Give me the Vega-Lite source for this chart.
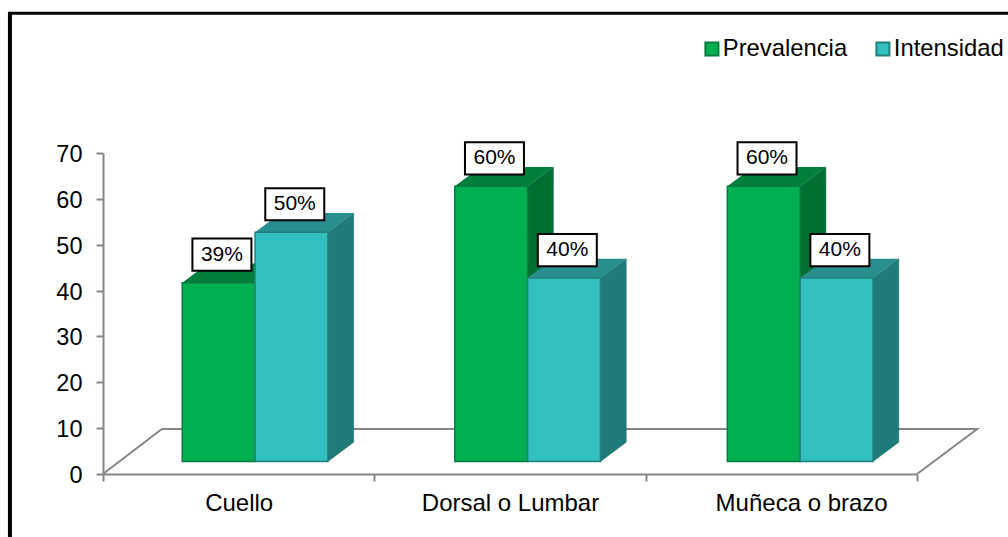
{
  "$schema": "https://vega.github.io/schema/vega-lite/v6.json",
  "width": 814,
  "height": 321,
  "autosize": {"type": "none"},
  "padding": {"left": 103, "top": 153, "right": 91, "bottom": 63},
  "background": "white",
  "config": {
    "view": {"stroke": null},
    "font": "Liberation Sans",
    "axis": {"grid": false, "title": null, "labelFont": "Liberation Sans", "labelColor": "#000000", "domainColor": "#868686", "tickColor": "#868686", "domainWidth": 2, "tickWidth": 2, "tickSize": 7}
  },
  "data": {
    "values": [
      {"categoria": "Cuello", "serie": "Prevalencia", "valor": 39},
      {"categoria": "Cuello", "serie": "Intensidad", "valor": 50},
      {"categoria": "Dorsal o Lumbar", "serie": "Prevalencia", "valor": 60},
      {"categoria": "Dorsal o Lumbar", "serie": "Intensidad", "valor": 40},
      {"categoria": "Muñeca o brazo", "serie": "Prevalencia", "valor": 60},
      {"categoria": "Muñeca o brazo", "serie": "Intensidad", "valor": 40}
    ]
  },
  "transform": [
    {"calculate": "indexof(['Cuello','Dorsal o Lumbar','Muñeca o brazo'], datum.categoria) * 1.0045 + 0.292 + (datum.serie === 'Intensidad' ? 0.2685 : 0)", "as": "izq"},
    {"calculate": "datum.izq + 0.2685", "as": "der"},
    {"calculate": "datum.valor + 2.73", "as": "cima"},
    {"calculate": "(datum.izq + datum.der) / 2 + 0.012", "as": "cx"},
    {"calculate": "datum.cima + 6.1", "as": "cy"},
    {"calculate": "datum.cx - 0.1087", "as": "cajaX"},
    {"calculate": "datum.cx + 0.1087", "as": "cajaX2"},
    {"calculate": "datum.cy - 3.5", "as": "cajaY"},
    {"calculate": "datum.cy + 3.5", "as": "cajaY2"},
    {"calculate": "datum.valor + '%'", "as": "etiqueta"},
    {"calculate": "datum.categoria + datum.serie", "as": "barra"}
  ],
  "layer": [
    {
      "data": {"values": [
        {"orden": 1, "px": 0, "py": 0},
        {"orden": 2, "px": 0.217, "py": 9.8},
        {"orden": 3, "px": 3.222, "py": 9.8},
        {"orden": 4, "px": 3, "py": 0}
      ]},
      "transform": [],
      "mark": {"type": "line", "color": "#868686", "strokeWidth": 2, "clip": false},
      "encoding": {
        "x": {
          "field": "px", "type": "quantitative",
          "scale": {"domain": [0, 3], "nice": false, "zero": false},
          "axis": {
            "values": [0, 0.5, 1, 1.5, 2, 2.573, 3],
            "labelExpr": "datum.value == 0.5 ? 'Cuello' : datum.value == 1.5 ? 'Dorsal o Lumbar' : datum.value == 2.573 ? 'Muñeca o brazo' : ''",
            "labelFontSize": 24,
            "labelPadding": 10,
            "labelAngle": 0,
            "labelOverlap": false,
            "labelFlush": false,
            "tickOpacity": {"condition": {"test": "indexof([0, 1, 2, 3], datum.value) >= 0", "value": 1}, "value": 0}
          }
        },
        "y": {
          "field": "py", "type": "quantitative",
          "scale": {"domain": [0, 70], "nice": false},
          "axis": {"values": [0, 10, 20, 30, 40, 50, 60, 70], "labelFontSize": 23.5, "labelPadding": 14, "labelOffset": 1.5}
        },
        "order": {"field": "orden", "type": "quantitative"}
      }
    },
    {
      "transform": [
        {"calculate": "[0, 1]", "as": "t"},
        {"flatten": ["t"]},
        {"calculate": "datum.der + datum.t * 0.095", "as": "sx"},
        {"calculate": "datum.cima + datum.t * 4.2", "as": "sy"},
        {"calculate": "2.73 + datum.t * 4.2", "as": "sy2"}
      ],
      "mark": {"type": "area", "stroke": "#1c6f6c", "strokeWidth": 0.5, "clip": false},
      "encoding": {
        "x": {"field": "sx", "type": "quantitative"},
        "y": {"field": "sy", "type": "quantitative"},
        "y2": {"field": "sy2"},
        "detail": {"field": "barra"},
        "fill": {"condition": {"test": "datum.serie === 'Prevalencia'", "value": "#006F32"}, "value": "#1F7A78"}
      }
    },
    {
      "transform": [
        {"calculate": "[0, 1]", "as": "t"},
        {"flatten": ["t"]},
        {"calculate": "datum.izq + datum.t * 0.095", "as": "tx"},
        {"calculate": "datum.der + datum.t * 0.095", "as": "tx2"},
        {"calculate": "datum.cima + datum.t * 4.2", "as": "ty"}
      ],
      "mark": {"type": "area", "orient": "horizontal", "clip": false},
      "encoding": {
        "y": {"field": "ty", "type": "quantitative"},
        "x": {"field": "tx", "type": "quantitative"},
        "x2": {"field": "tx2"},
        "detail": {"field": "barra"},
        "fill": {"condition": {"test": "datum.serie === 'Prevalencia'", "value": "#007F3A"}, "value": "#288F8E"}
      }
    },
    {
      "mark": {"type": "rect", "strokeWidth": 1.5, "clip": false},
      "encoding": {
        "x": {"field": "izq", "type": "quantitative"},
        "x2": {"field": "der"},
        "y": {"field": "cima", "type": "quantitative"},
        "y2": {"datum": 2.73},
        "fill": {
          "field": "serie", "type": "nominal",
          "scale": {"domain": ["Prevalencia", "Intensidad"], "range": ["#00B050", "#31C0BF"]},
          "legend": {
            "title": null,
            "orient": "none",
            "direction": "horizontal",
            "columns": 2,
            "legendX": 597,
            "legendY": -116,
            "padding": 0,
            "columnPadding": 23,
            "symbolType": "square",
            "symbolSize": 170,
            "symbolStrokeWidth": 2,
            "labelFontSize": 23.8,
            "labelFont": "Liberation Sans",
            "labelColor": "#000000",
            "labelOffset": -1
          }
        },
        "stroke": {
          "field": "serie", "type": "nominal",
          "scale": {"domain": ["Prevalencia", "Intensidad"], "range": ["#0A7A40", "#23807F"]},
          "legend": {
            "title": null,
            "orient": "none",
            "direction": "horizontal",
            "columns": 2,
            "legendX": 597,
            "legendY": -116
          }
        }
      }
    },
    {
      "mark": {"type": "rect", "fill": "white", "stroke": "#000000", "strokeWidth": 2, "clip": false},
      "encoding": {
        "x": {"field": "cajaX", "type": "quantitative"},
        "x2": {"field": "cajaX2"},
        "y": {"field": "cajaY", "type": "quantitative"},
        "y2": {"field": "cajaY2"}
      }
    },
    {
      "mark": {"type": "text", "fontSize": 21, "font": "Liberation Sans", "color": "#000000", "baseline": "middle", "align": "center", "clip": false},
      "encoding": {
        "x": {"field": "cx", "type": "quantitative"},
        "y": {"field": "cy", "type": "quantitative"},
        "text": {"field": "etiqueta"}
      }
    },
    {
      "data": {"values": [{}]},
      "transform": [],
      "mark": {"type": "rule", "color": "#000000", "strokeWidth": 4, "clip": false},
      "encoding": {
        "x": {"datum": -0.343},
        "y": {"datum": -15},
        "y2": {"datum": 100.5}
      }
    },
    {
      "data": {"values": [{}]},
      "transform": [],
      "mark": {"type": "rule", "color": "#000000", "strokeWidth": 3, "clip": false},
      "encoding": {
        "x": {"datum": -0.35},
        "x2": {"datum": 3.5},
        "y": {"datum": 100.5}
      }
    }
  ]
}
